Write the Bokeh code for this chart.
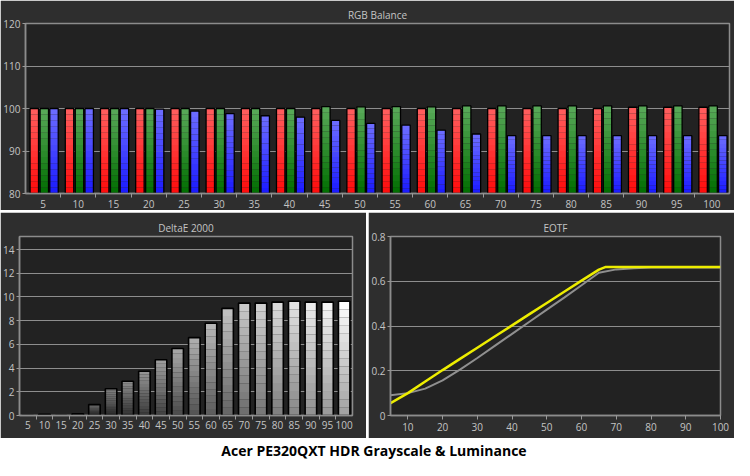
from bokeh.plotting import figure
from bokeh.layouts import column, row
from bokeh.models import Range1d, FixedTicker, Label
from bokeh.embed import file_html
from bokeh.resources import INLINE

# ---------------- data ----------------
levels = [5, 10, 15, 20, 25, 30, 35, 40, 45, 50, 55, 60, 65, 70, 75, 80, 85, 90, 95, 100]
red_balance = [100.0, 100.0, 100.0, 100.0, 100.0, 100.0, 100.0, 100.0, 100.0, 100.0,
               100.0, 100.0, 100.0, 100.0, 100.0, 100.0, 100.0, 100.3, 100.3, 100.3]
green_balance = [100.0, 100.0, 100.0, 100.0, 100.0, 100.0, 100.0, 100.0, 100.45, 100.4,
                 100.45, 100.4, 100.6, 100.6, 100.6, 100.6, 100.6, 100.6, 100.6, 100.6]
blue_balance = [100.0, 100.0, 100.0, 99.85, 99.4, 98.8, 98.3, 97.95, 97.2, 96.5,
                96.1, 94.9, 94.0, 93.6, 93.6, 93.6, 93.6, 93.6, 93.6, 93.6]
delta_e = [0.0, 0.1, 0.0, 0.15, 0.92, 2.26, 2.89, 3.73, 4.70, 5.65,
           6.57, 7.78, 9.04, 9.48, 9.48, 9.56, 9.64, 9.56, 9.56, 9.64]
eotf_target_x = [5, 10, 15, 20, 25, 30, 35, 40, 45, 50, 55, 60, 65, 67, 70, 75, 80, 85, 90, 95, 100]
eotf_target_y = [0.055, 0.100, 0.152, 0.203, 0.253, 0.303, 0.353, 0.403, 0.453, 0.503,
                 0.553, 0.603, 0.652, 0.664, 0.664, 0.664, 0.664, 0.664, 0.664, 0.664, 0.664]
eotf_meas_x = [5, 10, 15, 20, 25, 30, 35, 40, 45, 50, 55, 60, 65, 70, 75, 80, 85, 90, 95, 100]
eotf_meas_y = [0.090, 0.100, 0.120, 0.157, 0.205, 0.257, 0.311, 0.365, 0.419, 0.473,
               0.527, 0.582, 0.638, 0.653, 0.658, 0.661, 0.662, 0.662, 0.662, 0.662]
rgb_ticks = [80, 90, 100, 110, 120]
de_ticks = [0, 2, 4, 6, 8, 10, 12, 14]
eotf_yticks = [0, 0.2, 0.4, 0.6, 0.8]
eotf_xticks = [10, 20, 30, 40, 50, 60, 70, 80, 90, 100]
main_title = "Acer PE320QXT HDR Grayscale & Luminance"

PANEL = "#2e2e2e"
PLOT = "#222222"
TXT = "#c4c4c4"
GRID = "#8e8e8e"
FONT = "Open Sans"


def hexc(rgb):
    return "#%02x%02x%02x" % tuple(max(0, min(255, int(round(c)))) for c in rgb)


def style(p, title):
    p.background_fill_color = PLOT
    p.border_fill_color = PANEL
    p.outline_line_color = "#8c8c8c"
    p.outline_line_width = 1.5
    p.title.text = title
    p.title.align = "center"
    p.title.text_color = TXT
    p.title.text_font = FONT
    p.title.text_font_size = "10px"
    p.title.text_font_style = "normal"
    p.title.standoff = 4
    for ax in (p.xaxis[0], p.yaxis[0]):
        ax.axis_line_color = "#8c8c8c"
        ax.axis_line_width = 1.5
        ax.major_tick_line_color = "#9a9a9a"
        ax.minor_tick_line_color = "#9a9a9a"
        ax.major_tick_in = 0
        ax.minor_tick_in = 0
        ax.major_label_text_color = TXT
        ax.major_label_text_font = FONT
        ax.major_label_text_font_size = "10px"
        ax.major_label_standoff = 2
    p.xgrid.visible = False
    p.ygrid.grid_line_color = GRID
    p.ygrid.grid_line_width = 1


def grad_bars(p, xs, vals, base, width, tops, bots, n=14, lw=1.3):
    gx, gb, gt, gc = [], [], [], []
    for x, v, tc, bc in zip(xs, vals, tops, bots):
        if v <= base:
            continue
        for k in range(n):
            f = (k + 0.5) / n
            gx.append(x)
            gb.append(base + (v - base) * k / n)
            gt.append(base + (v - base) * (k + 1) / n)
            gc.append(hexc([bc[i] + (tc[i] - bc[i]) * f for i in range(3)]))
    p.vbar(x=gx, bottom=gb, top=gt, width=width, fill_color=gc, line_color=None)
    p.vbar(x=xs, bottom=base, top=vals, width=width, fill_color=None,
           line_color="#000000", line_width=lw)


# ---------------- RGB balance ----------------
p1 = figure(width=734, height=210, output_backend="svg", toolbar_location=None,
            x_range=Range1d(2.5, 102.5), y_range=Range1d(80, 120),
            min_border_left=25, min_border_right=5, min_border_top=23, min_border_bottom=17)
style(p1, "RGB Balance")
p1.yaxis[0].ticker = FixedTicker(ticks=rgb_ticks)
p1.ygrid[0].ticker = FixedTicker(ticks=rgb_ticks)
p1.yaxis[0].major_tick_out = 3
p1.yaxis[0].minor_tick_out = 0
p1.xaxis[0].ticker = FixedTicker(ticks=levels, minor_ticks=[l + 2.5 for l in levels[:-1]])
p1.xaxis[0].major_tick_out = 0
p1.xaxis[0].minor_tick_out = 4
n = len(levels)
grad_bars(p1, [l - 1.25 for l in levels], red_balance, 80, 1.2,
          [(255, 95, 95)] * n, [(255, 10, 10)] * n)
grad_bars(p1, [l + 0.17 for l in levels], green_balance, 80, 1.2,
          [(90, 170, 90)] * n, [(0, 110, 0)] * n)
grad_bars(p1, [l + 1.55 for l in levels], blue_balance, 80, 1.2,
          [(110, 110, 255)] * n, [(25, 25, 255)] * n)

# ---------------- DeltaE ----------------
p2 = figure(width=366, height=226, output_backend="svg", toolbar_location=None,
            x_range=Range1d(2.5, 102.5), y_range=Range1d(0, 15.1),
            min_border_left=19, min_border_right=14, min_border_top=22, min_border_bottom=18)
style(p2, "DeltaE 2000")
p2.yaxis[0].ticker = FixedTicker(ticks=de_ticks)
p2.ygrid[0].ticker = FixedTicker(ticks=de_ticks)
p2.yaxis[0].major_tick_out = 3
p2.yaxis[0].minor_tick_out = 0
p2.xaxis[0].ticker = FixedTicker(ticks=levels, minor_ticks=[l + 2.5 for l in levels[:-1]])
p2.xaxis[0].major_tick_out = 0
p2.xaxis[0].minor_tick_out = 4
p2.xaxis[0].major_label_standoff = 1
tops, bots = [], []
for i in range(n):
    t = 90 + 165 * i / (n - 1)
    tops.append((t, t, t))
    bots.append((t - 95, t - 95, t - 95))
grad_bars(p2, levels, delta_e, 0, 3.45, tops, bots, lw=1.6)

# ---------------- EOTF ----------------
p3 = figure(width=366, height=226, output_backend="svg", toolbar_location=None,
            x_range=Range1d(5, 100), y_range=Range1d(0, 0.8),
            min_border_left=22, min_border_right=14, min_border_top=24, min_border_bottom=23)
style(p3, "EOTF")
p3.yaxis[0].ticker = FixedTicker(ticks=eotf_yticks)
p3.ygrid[0].ticker = FixedTicker(ticks=eotf_yticks)
p3.yaxis[0].major_label_overrides = {0: "0", 0.2: "0.2", 0.4: "0.4", 0.6: "0.6", 0.8: "0.8"}
p3.yaxis[0].major_tick_out = 3
p3.xaxis[0].ticker = FixedTicker(ticks=eotf_xticks)
p3.xaxis[0].major_tick_out = 4
p3.xaxis[0].major_label_standoff = 3
p3.line(eotf_meas_x, eotf_meas_y, line_color="#8f8f8f", line_width=2)
p3.line(eotf_target_x, eotf_target_y, line_color="#eded00", line_width=2.5)

# ---------------- main title ----------------
p4 = figure(width=734, height=20, output_backend="svg", toolbar_location=None,
            x_range=Range1d(-1, 1), y_range=Range1d(-1, 1),
            min_border=0)
p4.axis.visible = False
p4.grid.visible = False
p4.outline_line_color = None
p4.background_fill_color = "white"
p4.border_fill_color = "white"
p4.add_layout(Label(x=-0.01, y=0, text=main_title, text_align="center",
                    text_baseline="middle", text_font=FONT, text_font_style="bold",
                    text_font_size="14px", text_color="black"))

layout = column(p1, row(p2, p3, spacing=2), p4, spacing=2)
open("out.html", "w").write(file_html(layout, INLINE))
